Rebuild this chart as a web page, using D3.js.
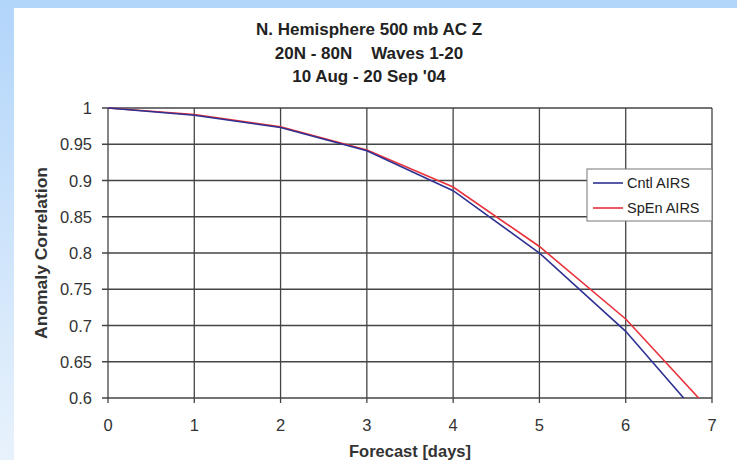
<!DOCTYPE html>
<html lang="en">
<head>
<meta charset="UTF-8" />
<title>N. Hemisphere 500 mb AC Z</title>
<script src="https://d3js.org/d3.v7.min.js"></script>
<style>
  body { margin: 0; padding: 0; background: #fff; }
  svg { display: block; font-family: "Liberation Sans", Arial, sans-serif; }
</style>
</head>
<body>
<svg id="chart" width="737" height="460"></svg>
<script>
  // forecast days and anomaly correlation values
  const days = [0, 1, 2, 3, 4, 5, 6, 7];
  const cntlAirs = [1.0, 0.990, 0.973, 0.941, 0.886, 0.800, 0.692, 0.555];
  const spenAirs = [1.0, 0.991, 0.974, 0.942, 0.891, 0.809, 0.709, 0.580];
  const yTicks = [0.6, 0.65, 0.7, 0.75, 0.8, 0.85, 0.9, 0.95, 1];
  const xTicks = [0, 1, 2, 3, 4, 5, 6, 7];
  const titleLines = ["N. Hemisphere 500 mb AC Z", "20N - 80N    Waves 1-20", "10 Aug - 20 Sep '04"];
  const seriesNames = ["Cntl AIRS", "SpEn AIRS"];
  const seriesColors = ["#2e3192", "#e8323c"];

  const svg = d3.select("#chart");
  const W = 737, H = 460;
  const margin = { left: 108, right: 25, top: 108, bottom: 62 };

  // blue frame of the slide (top strip + fading left strip)
  const defs = svg.append("defs");
  const grad = defs.append("linearGradient").attr("id", "leftfade")
    .attr("x1", 0).attr("y1", 0).attr("x2", 0).attr("y2", 1);
  grad.append("stop").attr("offset", "0%").attr("stop-color", "#b2d5fa");
  grad.append("stop").attr("offset", "100%").attr("stop-color", "#e8f2fc");
  svg.append("rect").attr("x", 0).attr("y", 0).attr("width", W).attr("height", H).attr("fill", "#fff");
  svg.append("rect").attr("x", 0).attr("y", 0).attr("width", 14).attr("height", H).attr("fill", "url(#leftfade)");
  svg.append("rect").attr("x", 0).attr("y", 0).attr("width", W).attr("height", 8).attr("fill", "#b2d5fa");

  const x = d3.scaleLinear().domain([0, 7]).range([margin.left, W - margin.right]);
  const y = d3.scaleLinear().domain([0.6, 1]).range([H - margin.bottom, margin.top]);

  // title
  svg.append("g").selectAll("text").data(titleLines).join("text")
    .attr("x", 369).attr("y", (d, i) => 35 + i * 23.5)
    .attr("text-anchor", "middle")
    .attr("font-size", 17).attr("font-weight", "bold").attr("fill", "#222")
    .attr("xml:space", "preserve")
    .text(d => d);

  // grid
  const gridColor = "#444";
  svg.append("g").selectAll("line").data(yTicks).join("line")
    .attr("x1", x(0) - 6).attr("x2", x(7))
    .attr("y1", d => y(d)).attr("y2", d => y(d))
    .attr("stroke", gridColor).attr("stroke-width", 1.3);
  svg.append("g").selectAll("line").data(xTicks).join("line")
    .attr("x1", d => x(d)).attr("x2", d => x(d))
    .attr("y1", y(1)).attr("y2", y(0.6) + 5)
    .attr("stroke", gridColor).attr("stroke-width", 1.3);

  // tick labels
  svg.append("g").selectAll("text").data(yTicks).join("text")
    .attr("x", x(0) - 16).attr("y", d => y(d) + 6)
    .attr("text-anchor", "end").attr("font-size", 16.5).attr("fill", "#333")
    .text(d => d);
  svg.append("g").selectAll("text").data(xTicks).join("text")
    .attr("x", d => x(d)).attr("y", y(0.6) + 33)
    .attr("text-anchor", "middle").attr("font-size", 16.5).attr("fill", "#333")
    .text(d => d);

  // axis titles
  svg.append("text")
    .attr("transform", `translate(47,${(y(1) + y(0.6)) / 2}) rotate(-90)`)
    .attr("text-anchor", "middle").attr("font-size", 16.5).attr("font-weight", "bold").attr("fill", "#333")
    .attr("textLength", 172).attr("lengthAdjust", "spacingAndGlyphs")
    .text("Anomaly Correlation");
  svg.append("text")
    .attr("x", 410).attr("y", 457)
    .attr("text-anchor", "middle").attr("font-size", 16.5).attr("font-weight", "bold").attr("fill", "#333")
    .text("Forecast [days]");

  // lines, clipped to the plot area
  defs.append("clipPath").attr("id", "plotclip").append("rect")
    .attr("x", x(0)).attr("y", y(1) - 3)
    .attr("width", x(7) - x(0)).attr("height", y(0.6) - y(1) + 3);
  const line = d3.line().x((d, i) => x(days[i])).y(d => y(d));
  const plot = svg.append("g").attr("clip-path", "url(#plotclip)");
  [spenAirs, cntlAirs].forEach((vals, k) => {
    plot.append("path").datum(vals)
      .attr("d", line).attr("fill", "none")
      .attr("stroke", seriesColors[1 - k]).attr("stroke-width", 1.6);
  });

  // legend
  const lg = svg.append("g").attr("transform", "translate(587,169)");
  lg.append("rect").attr("width", 125).attr("height", 52)
    .attr("fill", "#fff").attr("stroke", "#777").attr("stroke-width", 1);
  seriesNames.forEach((name, i) => {
    const yy = 14 + i * 25;
    lg.append("line").attr("x1", 6).attr("x2", 36).attr("y1", yy).attr("y2", yy)
      .attr("stroke", seriesColors[i]).attr("stroke-width", 1.6);
    lg.append("text").attr("x", 40).attr("y", yy + 5)
      .attr("font-size", 14.5).attr("fill", "#222").text(name);
  });
</script>
</body>
</html>
